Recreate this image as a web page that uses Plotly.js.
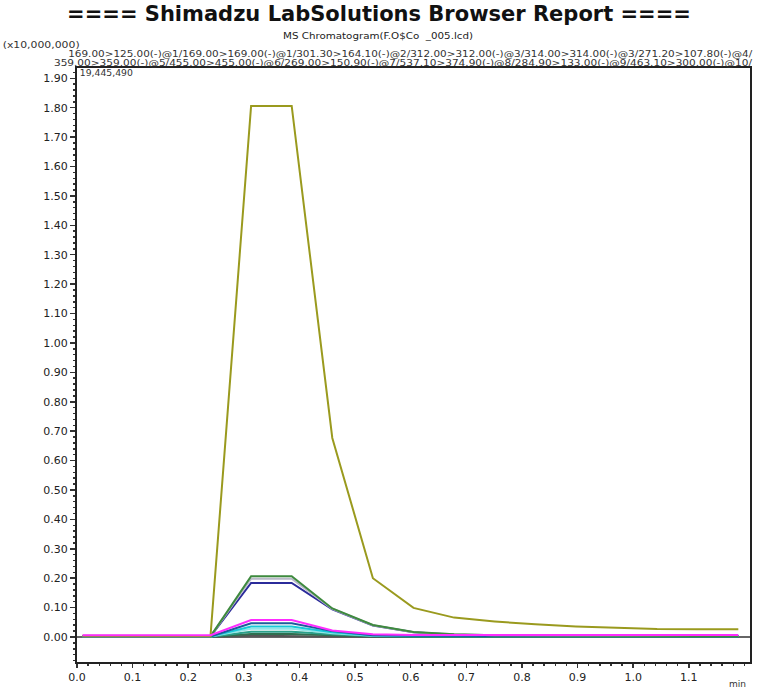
<!DOCTYPE html>
<html>
<head>
<meta charset="utf-8">
<script src="https://cdn.plot.ly/plotly-3.0.1.min.js"></script>
<style>
  html, body { margin: 0; padding: 0; background: #fff; }
  #chart { width: 758px; height: 690px; }
</style>
</head>
<body>
<div id="chart"></div>
<script>
// Retention times (min) of the sampled points
const times = [0.010, 0.083, 0.166, 0.240, 0.313, 0.386, 0.459, 0.532, 0.605, 0.678, 0.751, 0.824, 0.897, 0.970, 1.043, 1.116, 1.189];

// Intensities (x10,000,000)
const olive     = [0.004, 0.003, 0.002, 0.003, 1.806, 1.806, 0.677, 0.200, 0.099, 0.066, 0.053, 0.043, 0.036, 0.031, 0.027, 0.026, 0.026];
const green     = [0.002, 0.002, 0.002, 0.002, 0.207, 0.207, 0.097, 0.041, 0.017, 0.009, 0.006, 0.005, 0.004, 0.004, 0.003, 0.003, 0.003];
const silver    = [0.002, 0.002, 0.002, 0.002, 0.198, 0.198, 0.096, 0.040, 0.016, 0.009, 0.006, 0.005, 0.004, 0.003, 0.003, 0.003, 0.003];
const navy      = [0.002, 0.002, 0.002, 0.002, 0.184, 0.184, 0.094, 0.039, 0.016, 0.008, 0.006, 0.005, 0.004, 0.003, 0.003, 0.003, 0.003];
const steel     = [0.002, 0.002, 0.002, 0.002, 0.047, 0.047, 0.020, 0.006, 0.004, 0.003, 0.003, 0.003, 0.003, 0.003, 0.003, 0.003, 0.003];
const cyan      = [0.002, 0.002, 0.002, 0.002, 0.036, 0.036, 0.016, 0.005, 0.003, 0.003, 0.003, 0.003, 0.003, 0.003, 0.003, 0.003, 0.003];
const lightcyan = [0.002, 0.002, 0.002, 0.002, 0.028, 0.028, 0.013, 0.004, 0.003, 0.003, 0.003, 0.003, 0.003, 0.003, 0.003, 0.003, 0.003];
const teal      = [0.001, 0.001, 0.001, 0.001, 0.018, 0.018, 0.009, 0.003, 0.002, 0.002, 0.002, 0.002, 0.002, 0.002, 0.002, 0.002, 0.002];
const darkgreen = [0.001, 0.001, 0.001, 0.001, 0.010, 0.010, 0.006, 0.002, 0.001, 0.001, 0.001, 0.001, 0.001, 0.001, 0.001, 0.001, 0.001];
const darkgray  = [0.000, 0.000, 0.000, 0.000, 0.004, 0.004, 0.002, 0.001, 0.000, 0.000, 0.000, 0.000, 0.000, 0.000, 0.000, 0.000, 0.000];
const magenta   = [0.006, 0.006, 0.006, 0.006, 0.058, 0.058, 0.022, 0.009, 0.007, 0.007, 0.007, 0.007, 0.007, 0.007, 0.007, 0.007, 0.007];

const channelLine1 = "169.00>125.00(-)@1/169.00>169.00(-)@1/301.30>164.10(-)@2/312.00>312.00(-)@3/314.00>314.00(-)@3/271.20>107.80(-)@4/";
const channelLine2 = "359.00>359.00(-)@5/455.00>455.00(-)@6/269.00>150.90(-)@7/537.10>374.90(-)@8/284.90>133.00(-)@9/463.10>300.00(-)@10/";
const subTitle = "MS Chromatogram(F.O$Co  _005.lcd)";
const scaleText = "(x10,000,000)";
const maxText = "19,445,490";

const xTicks = [0.0, 0.1, 0.2, 0.3, 0.4, 0.5, 0.6, 0.7, 0.8, 0.9, 1.0, 1.1];
const yTicks = [0.0, 0.1, 0.2, 0.3, 0.4, 0.5, 0.6, 0.7, 0.8, 0.9, 1.0, 1.1, 1.2, 1.3, 1.4, 1.5, 1.6, 1.7, 1.8, 1.9];

const series = [
  {y: darkgray,  color: '#555555'},
  {y: darkgreen, color: '#2f6f4f'},
  {y: teal,      color: '#2aa08a'},
  {y: lightcyan, color: '#8fe6e6'},
  {y: cyan,      color: '#18c8d8'},
  {y: steel,     color: '#1f5a9c'},
  {y: navy,      color: '#2b2b9a'},
  {y: silver,    color: '#b8b8c8'},
  {y: green,     color: '#3e8a3e'},
  {y: olive,     color: '#9a9a1e'},
  {y: magenta,   color: '#ff2cff'}
];

const traces = series.map(s => ({
  x: times, y: s.y, type: 'scatter', mode: 'lines',
  line: {color: s.color, width: 2}, hoverinfo: 'skip', showlegend: false
}));

const FAM = 'DejaVu Sans, Arial, sans-serif';
const tickFont = {family: FAM, size: 11, color: '#222'};
const tiny = {family: FAM, size: 8.5, color: '#333'};

// pixel helpers for placing page texts (plot area: l=77, t=68, w=673, h=594)
const px = x => (x - 77) / 673;
const py = y => 1 + (68 - y) / 594;

const layout = {
  width: 758, height: 690,
  margin: {l: 77, r: 8, t: 68, b: 28},
  paper_bgcolor: '#fff', plot_bgcolor: '#fff',
  showlegend: false,
  xaxis: {
    range: [0, 1.21], tickvals: xTicks, tickformat: '.1f',
    ticks: 'outside', ticklen: 4, tickwidth: 1.5, tickcolor: '#333',
    minor: {dtick: 0.02, ticks: 'outside', ticklen: 2, tickwidth: 1.5, tickcolor: '#333', showgrid: false},
    showgrid: false, zeroline: false,
    showline: true, linecolor: '#222', linewidth: 2, mirror: true,
    tickfont: tickFont
  },
  yaxis: {
    range: [-0.085, 1.935], tickvals: yTicks, tickformat: '.2f',
    ticks: 'outside', ticklen: 5, tickwidth: 1.5, tickcolor: '#333',
    minor: {dtick: 0.02, ticks: 'outside', ticklen: 2, tickwidth: 1.5, tickcolor: '#333', showgrid: false},
    showgrid: false, zeroline: true, zerolinecolor: '#666', zerolinewidth: 2,
    showline: true, linecolor: '#222', linewidth: 2, mirror: true,
    tickfont: tickFont
  },
  title: {
    text: '==== Shimadzu LabSolutions Browser Report ====',
    font: {family: FAM, size: 21, color: '#111', weight: 'bold'},
    xref: 'container', x: 0.5, xanchor: 'center',
    yref: 'container', y: 0.98, yanchor: 'middle'
  },
  annotations: [
    {text: subTitle, xref: 'paper', yref: 'paper', x: px(378), y: py(36), xanchor: 'center', yanchor: 'middle', showarrow: false, font: {family: FAM, size: 9, color: '#222'}},
    {text: scaleText, xref: 'paper', yref: 'paper', x: px(41), y: py(45), xanchor: 'center', yanchor: 'middle', showarrow: false, font: tiny},
    {text: channelLine1, xref: 'paper', yref: 'paper', x: px(410), y: py(54), xanchor: 'center', yanchor: 'middle', showarrow: false, font: tiny},
    {text: channelLine2, xref: 'paper', yref: 'paper', x: px(403), y: py(63), xanchor: 'center', yanchor: 'middle', showarrow: false, font: tiny},
    {text: maxText, xref: 'paper', yref: 'paper', x: px(106), y: py(73), xanchor: 'center', yanchor: 'middle', showarrow: false, font: tiny},
    {text: 'min', xref: 'paper', yref: 'paper', x: px(737), y: py(684), xanchor: 'center', yanchor: 'middle', showarrow: false, font: {family: FAM, size: 9, color: '#333'}}
  ]
};

Plotly.newPlot('chart', traces, layout, {staticPlot: true, displayModeBar: false}).then(() => {
  // the report prints its header lines horizontally stretched
  const widths = {};
  widths[channelLine1] = 684;
  widths[channelLine2] = 698;
  widths[subTitle] = 190;
  widths[scaleText] = 77;
  widths[maxText] = 53;
  document.querySelectorAll('#chart text.annotation-text').forEach(t => {
    const w = widths[t.textContent];
    if (w) {
      t.setAttribute('textLength', w);
      t.setAttribute('lengthAdjust', 'spacingAndGlyphs');
    }
  });
});
</script>
</body>
</html>
